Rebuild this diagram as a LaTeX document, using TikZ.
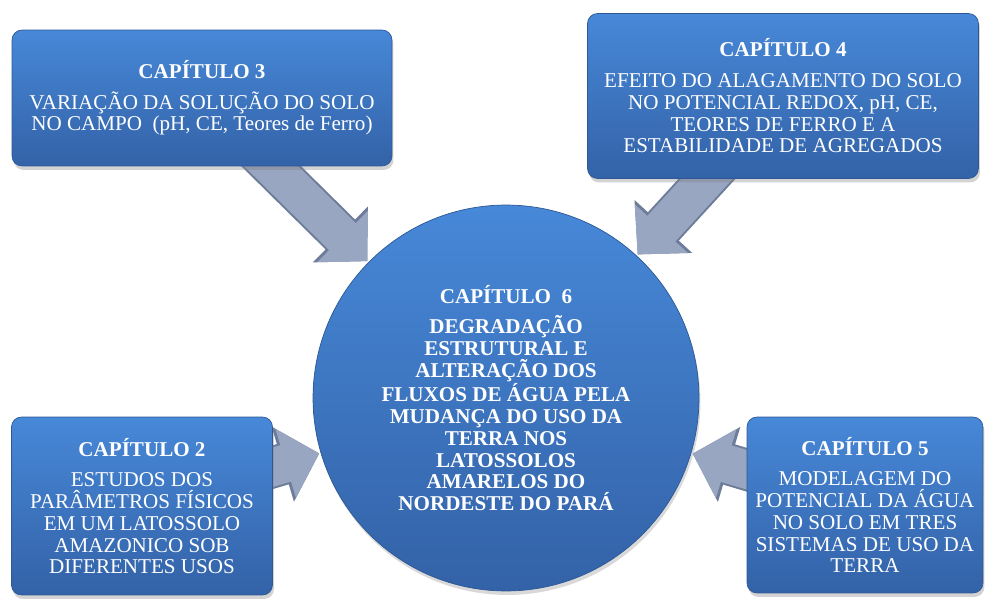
\documentclass[tikz,border=0pt]{standalone}
\usepackage{fontspec}
\setmainfont{Liberation Serif}
\usetikzlibrary{shapes.geometric, arrows.meta, shadows}
\definecolor{azulclaro}{HTML}{4788D8}
\definecolor{azulescuro}{HTML}{3362A7}
\definecolor{azulborda}{HTML}{2D5895}
\definecolor{setaclara}{HTML}{98A6C1}
\definecolor{setaborda}{HTML}{6D7C99}
\pgfdeclarelayer{fundo}
\pgfdeclarelayer{setas}
\pgfsetlayers{fundo,setas,main}
\tikzstyle{caixa} = [rectangle, rounded corners=0.2cm, top color=azulclaro, bottom color=azulescuro, draw=azulborda, thin, text=white, align=center, font=\fontsize{12}{12.4}\selectfont, drop shadow={opacity=0.35, shadow xshift=0.03cm, shadow yshift=-0.08cm}]
\tikzstyle{bola} = [circle, minimum size=7.72cm, top color=azulclaro, bottom color=azulescuro, draw=azulborda, thin, text=white, align=center, font=\fontsize{12}{12.4}\selectfont\bfseries, drop shadow={opacity=0.3, shadow xshift=0.03cm, shadow yshift=-0.08cm}]
\tikzstyle{seta} = [line width=0.76cm, draw=setaclara, -{Triangle[length=0.7cm,width=1.4cm]}, shorten >=0.03cm, preaction={draw=setaborda, line width=0.84cm, -{Triangle[length=0.76cm,width=1.52cm]}}]

\begin{document}
\begin{tikzpicture}[x=0.02cm, y=-0.02cm]

        \useasboundingbox (0,0) rectangle (985,599);

        % Círculo central (capítulo 6)
        \begin{pgfonlayer}{fundo}
        \node (cap6) [bola] at (506,398) {CAPÍTULO\ \ 6\\[5pt] DEGRADAÇÃO\\ ESTRUTURAL E\\ ALTERAÇÃO DOS\\ FLUXOS DE ÁGUA PELA\\ MUDANÇA DO USO DA\\ TERRA NOS\\ LATOSSOLOS\\ AMARELOS DO\\ NORDESTE DO PARÁ};
        \end{pgfonlayer}

        % Caixas dos capítulos
        \node (cap3) [caixa, minimum width=7.6cm, minimum height=2.72cm] at (202,98) {\textbf{CAPÍTULO 3}\\[5pt] VARIAÇÃO DA SOLUÇÃO DO SOLO\\ NO CAMPO\ \ (pH, CE, Teores de Ferro)};
        \node (cap4) [caixa, minimum width=7.82cm, minimum height=3.3cm] at (783,96) {\textbf{CAPÍTULO 4}\\[5pt] EFEITO DO ALAGAMENTO DO SOLO\\ NO POTENCIAL REDOX, pH, CE,\\ TEORES DE FERRO E A\\ ESTABILIDADE DE AGREGADOS};
        \node (cap2) [caixa, minimum width=5.22cm, minimum height=3.56cm] at (142,506) {\textbf{CAPÍTULO 2}\\[5pt] ESTUDOS DOS\\ PARÂMETROS FÍSICOS\\ EM UM LATOSSOLO\\ AMAZONICO SOB\\ DIFERENTES USOS};
        \node (cap5) [caixa, minimum width=4.72cm, minimum height=3.52cm] at (865,505) {\textbf{CAPÍTULO 5}\\[5pt] MODELAGEM DO\\ POTENCIAL DA ÁGUA\\ NO SOLO EM TRES\\ SISTEMAS DE USO DA\\ TERRA};

        % Setas dos capítulos para o círculo
        \begin{pgfonlayer}{setas}
        \draw [seta] (cap3.center) -- (cap6);
        \draw [seta] (cap4.center) -- (cap6);
        \draw [seta] (cap2.center) -- (cap6);
        \draw [seta] (cap5.center) -- (cap6);
        \end{pgfonlayer}

    \end{tikzpicture}
\end{document}
